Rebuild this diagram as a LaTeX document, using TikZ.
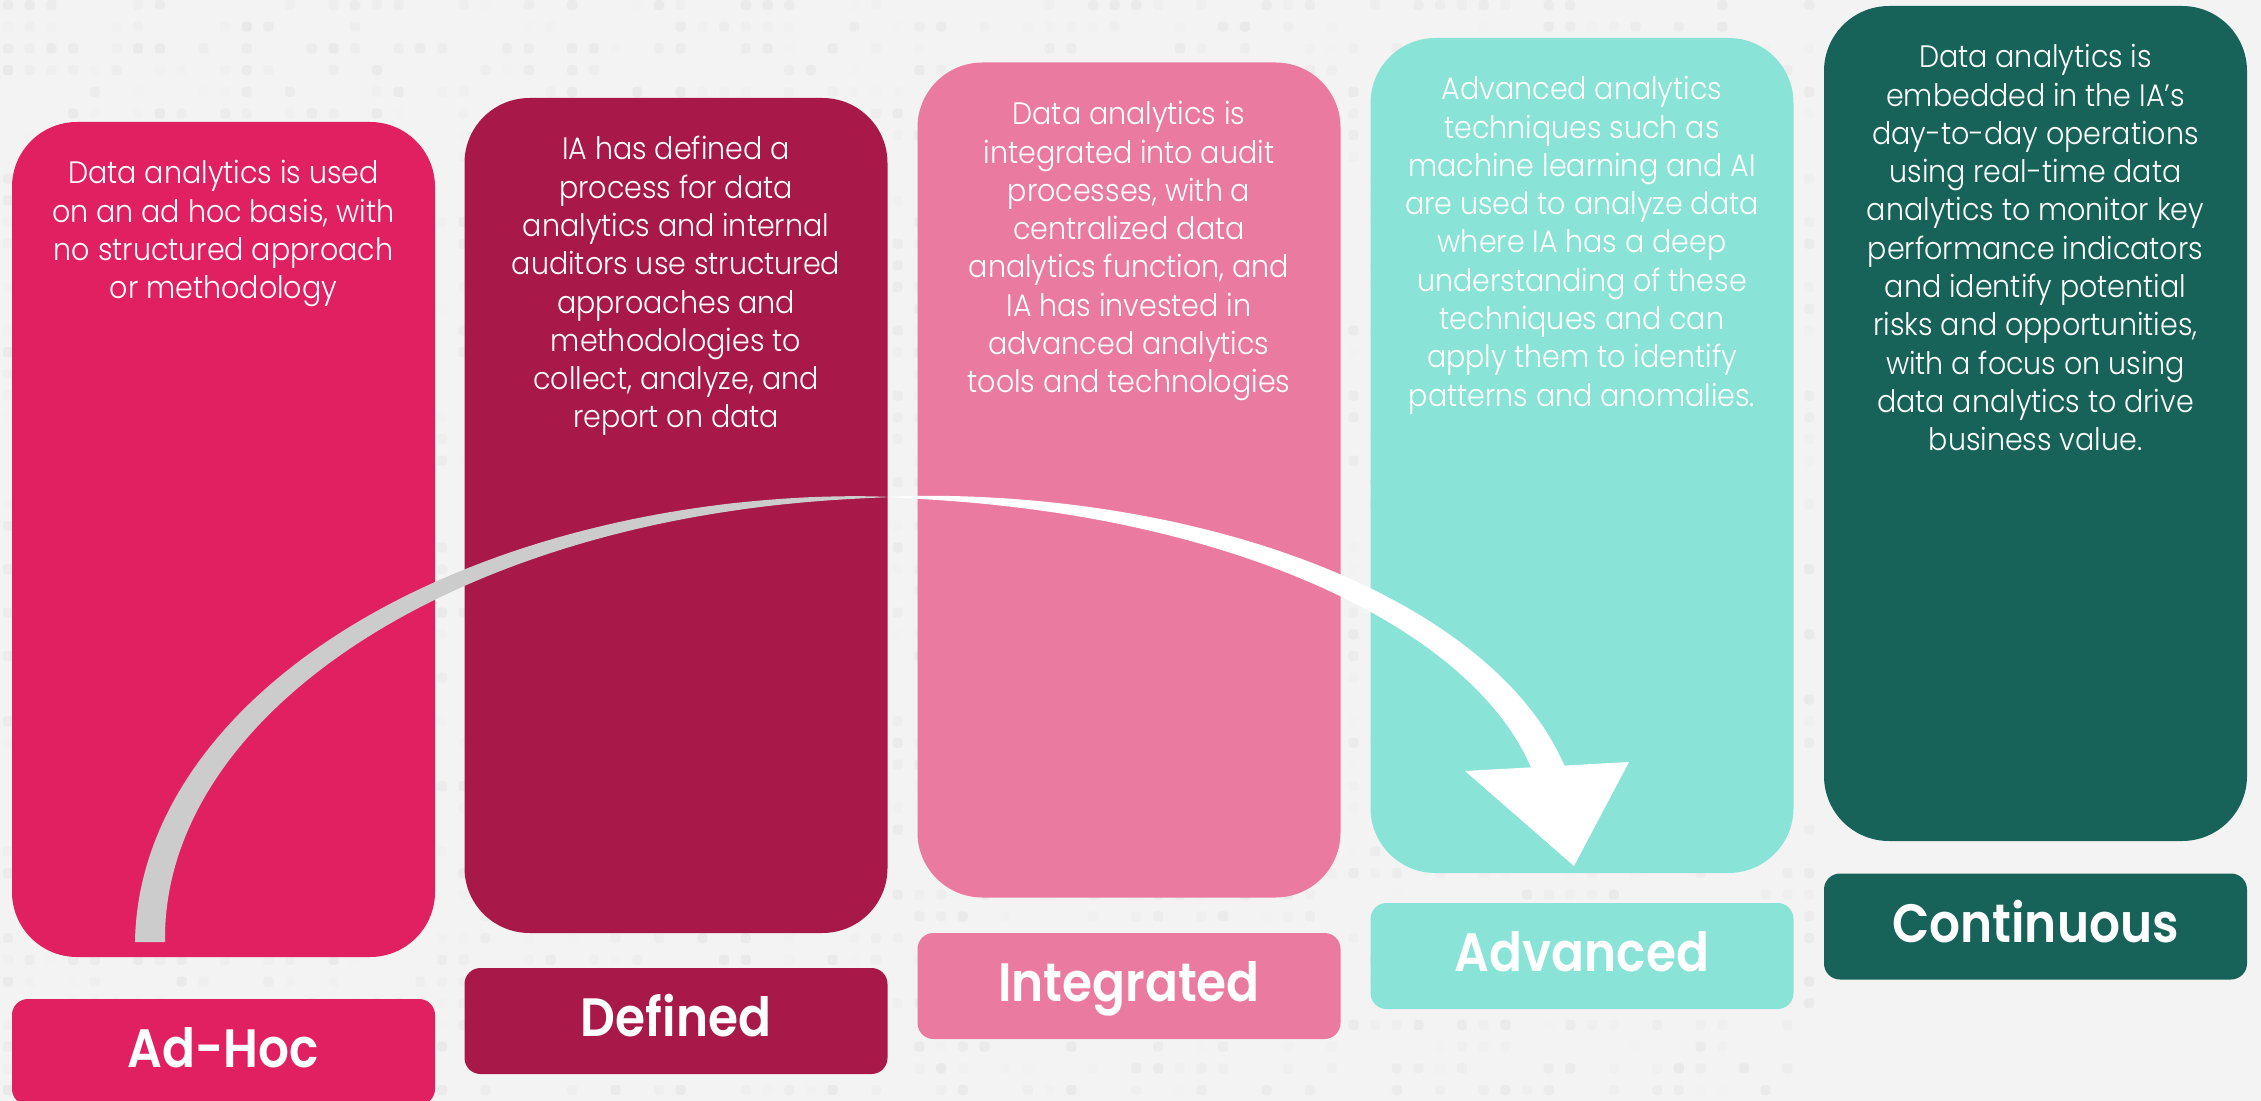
\documentclass[tikz,border=0pt]{standalone}
\usepackage{fontspec}
\newfontfamily\bodyfont{Poppins Light}[FakeStretch=0.92]
\newfontfamily\labelfont{Poppins SemiBold}[FakeStretch=0.9]
\definecolor{bgc}{HTML}{F3F3F3}
\definecolor{cA}{HTML}{E02060}
\definecolor{cB}{HTML}{A81848}
\definecolor{cC}{HTML}{EB7AA0}
\definecolor{cD}{HTML}{8AE3D7}
\definecolor{cE}{HTML}{186359}
\definecolor{arrowgray}{HTML}{CCCCCC}
\begin{document}
\begin{tikzpicture}[x=0.5pt,y=-0.5pt,
  stagebox/.style={rectangle, rounded corners=32.5pt, minimum width=211.5pt, minimum height=417.5pt, inner sep=0pt},
  stagelabel/.style={rectangle, rounded corners=8pt, minimum width=211.5pt, minimum height=53pt, inner sep=0pt,
     text=white, font=\labelfont\fontsize{27}{30}\selectfont, text height=15.5pt, text depth=0pt},
  stagetext/.style={anchor=north, align=center, inner sep=0pt, text=white,
     font=\bodyfont\fontsize{15.5}{19.15}\selectfont}]
\useasboundingbox (0,0) rectangle (2261,1101);
\fill[bgc] (0,0) rectangle (2261,1101);
% faint square pattern
\pgfmathsetseed{4217}
\foreach \i in {0,...,83}{
  \foreach \j in {0,...,50}{
    \pgfmathsetmacro{\k}{4.7+7*(rnd-0.45)}
    \ifdim\k pt>4.9pt
      \fill[black!\k, rounded corners=1.5pt] ({8+21.7*\i-5},{5+21.7*\j-5}) rectangle ++(10,10);
    \fi
  }
}
% boxes
\node[stagebox, fill=cA] (b1) at (223.5,539.5) {};
\node[stagebox, fill=cB] (b2) at (676,515.5) {};
\node[stagebox, fill=cC] (b3) at (1129,480) {};
\node[stagebox, fill=cD] (b4) at (1582,455.5) {};
\node[stagebox, fill=cE] (b5) at (2035.5,423.5) {};
% labels
\node[stagelabel, fill=cA] (l1) at (223.5,1052) {Ad-Hoc};
\node[stagelabel, fill=cB] (l2) at (676,1021) {Defined};
\node[stagelabel, fill=cC] (l3) at (1129,986) {Integrated};
\node[stagelabel, fill=cD] (l4) at (1582,956) {Advanced};
\node[stagelabel, fill=cE] (l5) at (2035.5,926.5) {Continuous};
% texts
\node[stagetext] (t1) at (223.5,160) {Data analytics is used\\on an ad hoc basis, with\\no structured approach\\or methodology};
\node[stagetext] (t2) at (676,136) {IA has defined a\\process for data\\analytics and internal\\auditors use structured\\approaches and\\methodologies to\\collect, analyze, and\\report on data};
\node[stagetext] (t3) at (1129,101) {Data analytics is\\integrated into audit\\processes, with a\\centralized data\\analytics function, and\\IA has invested in\\advanced analytics\\tools and technologies};
\node[stagetext] (t4) at (1582,76) {Advanced analytics\\techniques such as\\machine learning and AI\\are used to analyze data\\where IA has a deep\\understanding of these\\techniques and can\\apply them to identify\\patterns and anomalies.};
\node[stagetext] (t5) at (2035.5,44) {Data analytics is\\embedded in the IA’s\\day-to-day operations\\using real-time data\\analytics to monitor key\\performance indicators\\and identify potential\\risks and opportunities,\\with a focus on using\\data analytics to drive\\business value.};
% arrow: grey rising part
\fill[arrowgray]
  plot[domain=180:90, samples=90] ({888+(738+15*pow((\x-90)/90+0.001,0.7))*cos(\x)},{942-(445+15*pow((\x-90)/90+0.001,0.7))*sin(\x)})
  -- plot[domain=90:180, samples=90] ({888+(738-15*pow((\x-90)/90+0.001,0.7))*cos(\x)},{942-(445-15*pow((\x-90)/90+0.001,0.7))*sin(\x)})
  -- cycle;
% arrow: white descending part
\fill[white]
  plot[domain=90:11, samples=90] ({888+(675+16*pow((90-\x)/78+0.001,0.7))*cos(\x)},{839-(342+16*pow((90-\x)/78+0.001,0.7))*sin(\x)})
  -- plot[domain=11:90, samples=90] ({888+(675-16*pow((90-\x)/78+0.001,0.7))*cos(\x)},{839-(342-16*pow((90-\x)/78+0.001,0.7))*sin(\x)})
  -- cycle;
\coordinate (ahL) at (1465,771);
\coordinate (ahR) at (1629,762);
\coordinate (ahT) at (1574,866);
\fill[white] (ahL) -- (ahR) -- (ahT) -- cycle;
\end{tikzpicture}
\end{document}
